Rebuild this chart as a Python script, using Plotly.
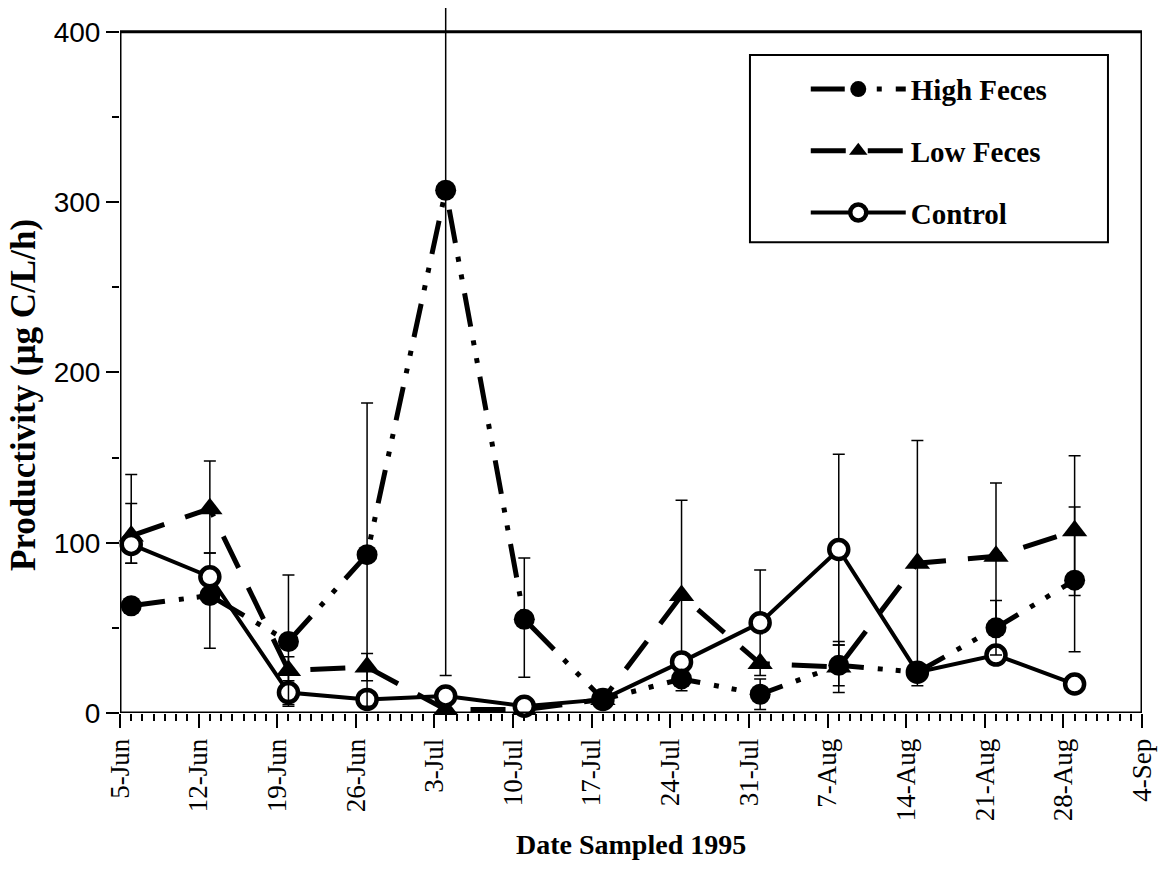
import plotly.graph_objects as go

# ---- data ----
dates = ["1995-06-06", "1995-06-13", "1995-06-20", "1995-06-27", "1995-07-04",
         "1995-07-11", "1995-07-18", "1995-07-25", "1995-08-01", "1995-08-08",
         "1995-08-15", "1995-08-22", "1995-08-29"]

high = [63, 69, 42, 93, 307, 55, 8, 20, 11, 28, 24, 50, 78]
high_err_plus = [0, 0, 39, 89, 285, 36, 0, 0, 9, 12, 0, 16, 43]
high_err_minus = [0, 0, 38, 89, 285, 34, 0, 0, 9, 12, 0, 16, 42]

low = [104, 120, 25, 27, 2, 2, 8, 69, 29, 27, 88, 92, 107]
low_err_plus = [36, 28, 8, 8, 0, 0, 0, 56, 0, 15, 72, 43, 44]
low_err_minus = [16, 26, 8, 8, 0, 0, 0, 56, 0, 15, 72, 43, 38]

ctrl = [99, 80, 12, 8, 10, 4, 8, 30, 53, 96, 24, 34, 17]
ctrl_err_plus = [24, 14, 7, 0, 4, 0, 0, 0, 31, 56, 0, 0, 0]
ctrl_err_minus = [11, 42, 7, 0, 4, 0, 0, 0, 31, 56, 0, 0, 0]

x_start, x_end = "1995-06-05", "1995-09-04"
y_ticks = [0, 100, 200, 300, 400]
y_top = 400
y_view_top = 414  # plot area extends a little above the frame so the tall error bar pokes out

SERIF = "Liberation Serif"
SANS = "Liberation Sans"

def err(plus, minus):
    return dict(type="data", symmetric=False, array=plus, arrayminus=minus,
                color="black", thickness=1.5, width=6)

fig = go.Figure()

fig.add_trace(go.Scatter(
    x=dates, y=low, name="Low Feces", mode="lines+markers",
    line=dict(color="black", width=5, dash="35px,22px"),
    marker=dict(symbol="triangle-up", size=22, color="black"),
    error_y=err(low_err_plus, low_err_minus),
    cliponaxis=False, legendrank=2, legendgroup="b"))

fig.add_trace(go.Scatter(
    x=dates, y=ctrl, name="Control", mode="lines+markers",
    line=dict(color="black", width=4),
    marker=dict(symbol="circle", size=19, color="white",
                line=dict(color="black", width=4.5)),
    error_y=err(ctrl_err_plus, ctrl_err_minus),
    cliponaxis=False, legendrank=3, legendgroup="c"))

fig.add_trace(go.Scatter(
    x=dates, y=high, name="High Feces", mode="lines+markers",
    line=dict(color="black", width=5, dash="34px,14px,5px,13px,5px,14px"),
    marker=dict(symbol="circle", size=21, color="black"),
    error_y=err(high_err_plus, high_err_minus),
    cliponaxis=False, legendrank=1, legendgroup="a"))

fig.update_layout(
    width=1168, height=872,
    margin=dict(l=120, r=26, t=8, b=159),
    paper_bgcolor="white", plot_bgcolor="white",
    showlegend=True,
    legend=dict(x=0.671, y=0.921, xanchor="left", yanchor="top",
                bgcolor="rgba(0,0,0,0)", borderwidth=0,
                font=dict(family=SERIF, size=29, color="black", weight="bold"),
                itemwidth=95, tracegroupgap=21, itemclick=False),
    shapes=[
        dict(type="rect", xref="x", yref="y", x0=x_start, x1=x_end, y0=0, y1=y_top,
             line=dict(color="black", width=3), fillcolor="rgba(0,0,0,0)", layer="above"),
        dict(type="rect", xref="paper", yref="paper",
             x0=0.6164, x1=0.9667, y0=0.6678, y1=0.9333,
             line=dict(color="black", width=2), fillcolor="rgba(0,0,0,0)"),
    ],
    annotations=[
        dict(text="Date Sampled 1995", xref="paper", yref="paper",
             x=0.5, y=-0.187, xanchor="center", yanchor="middle", showarrow=False,
             font=dict(family=SERIF, size=28, color="black", weight="bold")),
        dict(text="Productivity (µg C/L/h)", xref="paper", yref="paper",
             x=-0.095, y=0.451, xanchor="center", yanchor="middle", showarrow=False,
             textangle=-90,
             font=dict(family=SERIF, size=35, color="black", weight="bold")),
    ],
)

fig.update_xaxes(
    type="date", range=[x_start, x_end],
    tick0=x_start, dtick=7 * 86400000, tickformat="%-d-%b",
    tickangle=-90, ticks="outside", ticklen=14, tickwidth=2, tickcolor="black",
    tickfont=dict(family=SERIF, size=27, color="black"),
    minor=dict(dtick=86400000, ticks="outside", ticklen=7, tickwidth=1.5, tickcolor="black"),
    showgrid=False, zeroline=False, showline=False)

fig.update_yaxes(
    range=[0, y_view_top], tickvals=y_ticks,
    ticks="outside", ticklen=13, tickwidth=2, tickcolor="black",
    tickfont=dict(family=SANS, size=28, color="black"),
    minor=dict(tickvals=[50, 150, 250, 350], ticks="outside", ticklen=7,
               tickwidth=1.5, tickcolor="black"),
    showgrid=False, zeroline=False, showline=False)

fig.write_html("out.html")
